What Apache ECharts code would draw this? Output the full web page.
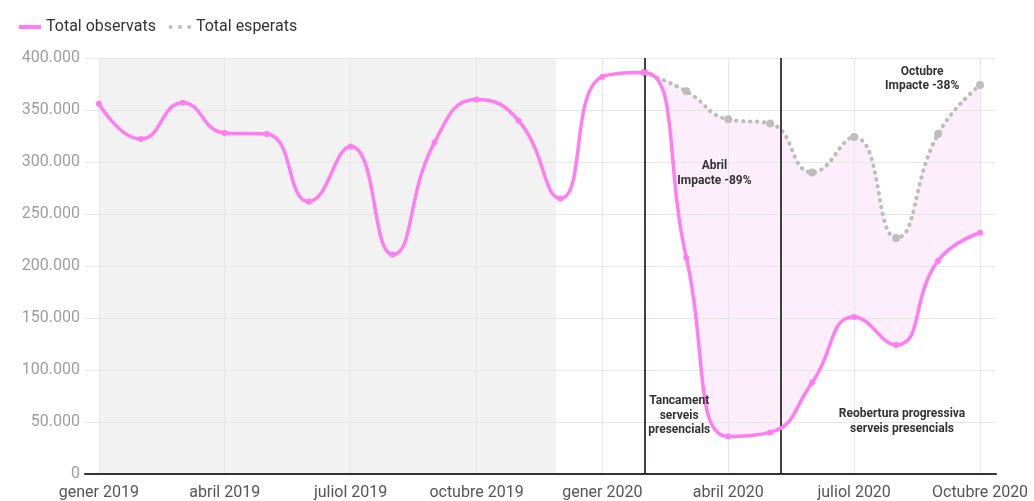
<!DOCTYPE html>
<html>
<head>
<meta charset="utf-8">
<script src="https://cdn.jsdelivr.net/npm/echarts@6/dist/echarts.min.js"></script>
<style>
html,body{margin:0;padding:0;background:#fff;}
#chart{width:1034px;height:501px;}
</style>
</head>
<body>
<div id="chart"></div>
<script>
// ---- data ----
const months = ['gener 2019','febrer 2019','març 2019','abril 2019','maig 2019','juny 2019','juliol 2019','agost 2019','setembre 2019','octubre 2019','novembre 2019','desembre 2019','gener 2020','febrer 2020','març 2020','abril 2020','maig 2020','juny 2020','juliol 2020','agost 2020','setembre 2020','Octubre 2020'];
const observed = [356000,322000,357000,328000,327000,262000,315000,211000,319000,360000,340000,265000,382000,386000,208000,36000,40000,88000,151000,124000,205000,232000];
const expectedStart = 13; // febrer 2020
const expected = [386000,368000,341000,337000,290000,324000,227000,327000,374000];
const tickIndexes = [0,3,6,9,12,15,18,21];
const xTickLabels = ['gener 2019','abril 2019','juliol 2019','octubre 2019','gener 2020','abril 2020','juliol 2020','Octubre 2020'];
const yTicks = [0,50000,100000,150000,200000,250000,300000,350000,400000];
const eventLines = [13, 16.25];
const shadedRange = [0, 10.9];
const notes = [
  {text:'Abril\nImpacte -89%', x:14.67, y:289000},
  {text:'Octubre\nImpacte -38%', x:19.62, y:380000},
  {text:'Tancament\nserveis\npresencials', x:13.83, y:56000},
  {text:'Reobertura progressiva\nserveis presencials', x:19.14, y:50500}
];

// ---- build ----
const obsData = observed.map((v,i)=>[i,v]);
const expData = expected.map((v,k)=>[expectedStart+k,v]);
const coverData = observed.slice(expectedStart-1).map((v,k)=>[expectedStart-1+k,v]);
const fmt = v => String(v).replace(/\B(?=(\d{3})+(?!\d))/g,'.');
const labelMap = {};
tickIndexes.forEach((t,k)=>labelMap[t]=xTickLabels[k]);

const FONT = 'Roboto';
const SMOOTH = 0.5;
const PINK = '#ff7cf2';
const GRAY = '#bdbdbd';
const GRID = '#e6e6e6';

const chart = echarts.init(document.getElementById('chart'), null, {renderer:'canvas'});
chart.setOption({
  animation:false,
  textStyle:{fontFamily:FONT},
  grid:{left:85,right:38,top:58,bottom:21,containLabel:false},
  legend:{
    left:14, top:14, itemWidth:22, itemHeight:4, itemGap:13,
    textStyle:{fontSize:16,color:'#333',fontFamily:FONT},
    data:[
      {name:'Total observats', icon:'rect'},
      {name:'Total esperats', icon:'path://M0,0h3v3h-3zM8,0h3v3h-3zM16,0h3v3h-3z'}
    ]
  },
  xAxis:{
    type:'value', min:-0.33, max:21.38, z:10,
    axisLine:{show:true, onZero:false, lineStyle:{color:'#333',width:2}},
    axisTick:{show:false},
    splitLine:{show:false},
    axisLabel:{
      customValues:tickIndexes,
      formatter:v=> labelMap[Math.round(v)] !== undefined && Math.abs(v-Math.round(v))<1e-6 ? labelMap[Math.round(v)] : '',
      fontSize:16, color:'#555', margin:11, fontFamily:FONT,
      showMinLabel:true, showMaxLabel:true
    }
  },
  yAxis:{
    type:'value', min:0, max:400000, interval:50000,
    axisLine:{show:false}, axisTick:{show:false},
    splitLine:{lineStyle:{color:GRID,width:1}},
    axisLabel:{formatter:v=>fmt(v), fontSize:16, color:'#9e9e9e', margin:5, fontFamily:FONT}
  },
  series:[
    {
      name:'_shade', type:'line', data:[], silent:true, z:1,
      markArea:{silent:true, z:1, itemStyle:{color:'rgba(0,0,0,0.05)'}, data:[[{xAxis:shadedRange[0]},{xAxis:shadedRange[1]}]]}
    },
    {
      name:'_fill', type:'line', data:expData, smooth:SMOOTH, symbol:'none', silent:true, z:1,
      lineStyle:{width:0, opacity:0},
      areaStyle:{color:'#fdeefb', opacity:1}
    },
    {
      name:'_cover', type:'line', data:coverData, smooth:SMOOTH, symbol:'none', silent:true, z:2,
      lineStyle:{width:0, opacity:0},
      areaStyle:{color:'#ffffff', opacity:1}
    },
    {
      name:'_grid', type:'line', data:[], silent:true, z:3,
      markLine:{silent:true, z:3, symbol:'none', label:{show:false},
        lineStyle:{color:GRID, width:1, type:'solid'},
        data: tickIndexes.map(t=>({xAxis:t})).concat(yTicks.filter(v=>v>0).map(v=>({yAxis:v})))}
    },
    {
      name:'Total esperats', type:'line', data:expData, smooth:SMOOTH, z:4,
      symbol:'circle', symbolSize:8, showSymbol:true,
      itemStyle:{color:GRAY},
      lineStyle:{color:GRAY, width:4, type:[0.5,6.5], cap:'round'}
    },
    {
      name:'Total observats', type:'line', data:obsData, smooth:SMOOTH, z:6,
      symbol:'circle', symbolSize:6, showSymbol:true,
      itemStyle:{color:PINK},
      lineStyle:{color:PINK, width:3.5},
      markLine:{silent:true, z:5, symbol:'none', label:{show:false},
        lineStyle:{color:'#463f3f', width:2, type:'solid'},
        data: eventLines.map(x=>({xAxis:x}))}
    },
    {
      name:'_notes', type:'line', data:[], silent:true, z:7,
      markPoint:{
        z:7, symbol:'circle', symbolSize:1, itemStyle:{color:'rgba(0,0,0,0)'},
        label:{show:true, position:'inside', fontWeight:'bold', fontSize:12, color:'#333', lineHeight:14.5, fontFamily:FONT, align:'center', verticalAlign:'middle'},
        data: notes.map(n=>({coord:[n.x,n.y], value:n.text, label:{formatter:n.text}}))
      }
    }
  ]
});
</script>
</body>
</html>
